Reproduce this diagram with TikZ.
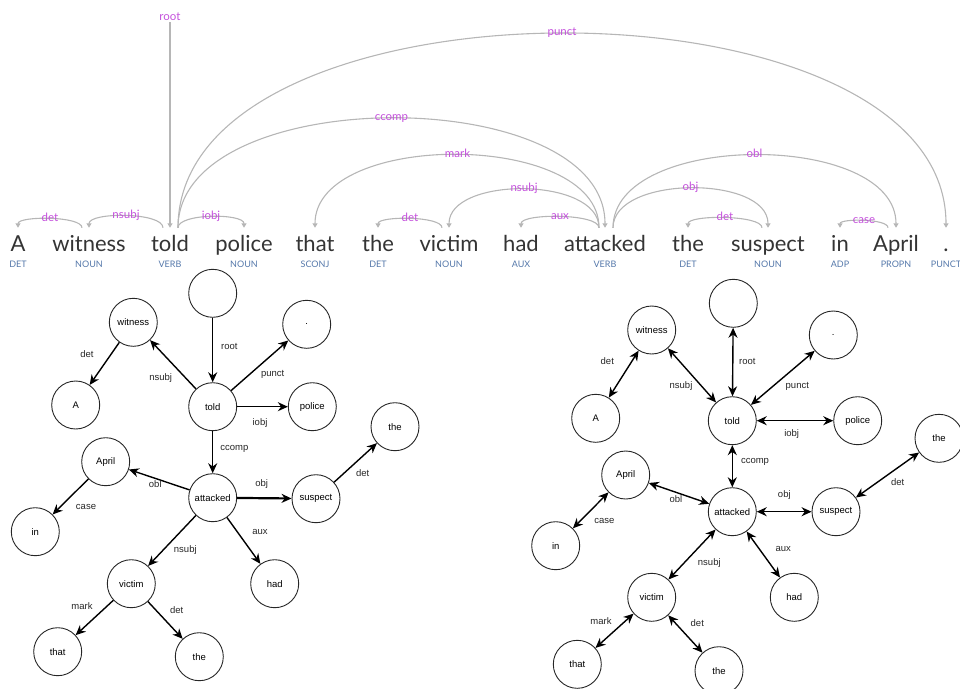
\documentclass[tikz,border=0pt]{standalone}
\usepackage{fontspec}
\setmainfont{Liberation Sans}
\newfontfamily\wordfont{Lato}
\usetikzlibrary{arrows.meta}
\definecolor{arcgray}{RGB}{182,182,182}
\definecolor{deplabel}{RGB}{196,80,220}
\definecolor{posblue}{RGB}{85,120,170}
\definecolor{wordink}{RGB}{52,52,52}
\begin{document}
\begin{tikzpicture}[x=1pt,y=1pt,
  wordtok/.style={font=\wordfont\fontsize{22}{22}\selectfont, text=wordink, inner sep=0pt, text height=23pt, text depth=0pt, anchor=base},
  postag/.style={font=\wordfont\fontsize{9}{9}\selectfont, text=posblue, inner sep=0pt, anchor=base},
  deprel/.style={font=\wordfont\fontsize{11.5}{11.5}\selectfont, text=deplabel, inner sep=0pt, anchor=base},
  deparc/.style={draw=arcgray, line width=1.1pt, -{Triangle[width=5pt,length=4.5pt]}},
  tokcircle/.style={circle, draw=black!85, line width=0.9pt, minimum size=48pt, inner sep=0pt, font=\fontsize{9.5}{9.5}\selectfont},
  relname/.style={font=\fontsize{9.5}{9.5}\selectfont, inner sep=0pt, text=black!85},
  depedge/.style={line width=1.4pt, -{Stealth[length=10pt,width=9pt]}},
  bidep/.style={line width=1.4pt, {Stealth[length=10pt,width=9pt]}-{Stealth[length=10pt,width=9pt]}},
]
\useasboundingbox (0,0) rectangle (960,-688);

% ---------------- sentence with dependency arcs ----------------
\foreach \x/\w/\p [count=\i] in {18/A/DET, 89/witness/NOUN, 170/told/VERB, 244/police/NOUN,
    315/that/SCONJ, 378/the/DET, 449/victim/NOUN, 521/had/AUX, 605/attacked/VERB,
    688/the/DET, 768/suspect/NOUN, 840/in/ADP, 896/April/PROPN, 946/./PUNCT}{
  \node[wordtok] (w\i) at (\x,-251) {\w};
  \node[postag] (p\i) at (\x,-267) {\p};
}

% root
\node[deprel] (lroot) at (170,-20) {root};
\draw[deparc] ([yshift=-2pt]lroot.south) -- (w3.north);

% arcs: head -> dependent
\draw[deparc] ([xshift=-7pt]w2.north) to[out=90,in=90,looseness=0.48] (w1.north);
\draw[deparc] ([xshift=-7pt]w3.north) to[out=90,in=90,looseness=0.55] (w2.north);
\draw[deparc] ([xshift=8pt]w3.north) to[out=90,in=90,looseness=0.57] (w4.north);
\draw[deparc] ([xshift=8pt]w3.north) to[out=90,in=90,looseness=0.877] (w9.north);
\draw[deparc] ([xshift=8pt]w3.north) to[out=90,in=90,looseness=0.865] (w14.north);
\draw[deparc] ([xshift=-6pt]w9.north) to[out=90,in=90,looseness=0.879] (w5.north);
\draw[deparc] ([xshift=-6pt]w9.north) to[out=90,in=90,looseness=0.88] (w7.north);
\draw[deparc] ([xshift=-7pt]w7.north) to[out=90,in=90,looseness=0.48] (w6.north);
\draw[deparc] ([xshift=-6pt]w9.north) to[out=90,in=90,looseness=0.48] (w8.north);
\draw[deparc] ([xshift=8pt]w9.north) to[out=90,in=90,looseness=0.879] (w13.north);
\draw[deparc] ([xshift=8pt]w9.north) to[out=90,in=90,looseness=0.873] (w11.north);
\draw[deparc] ([xshift=-6pt]w11.north) to[out=90,in=90,looseness=0.454] (w10.north);
\draw[deparc] ([xshift=-8pt]w13.north) to[out=90,in=90,looseness=0.5] (w12.north);

\node[deprel] (l1) at (50,-221) {det};
\node[deprel] (l2) at (126,-218) {nsubj};
\node[deprel] (l3) at (211,-219) {iobj};
\node[deprel] (l4) at (391.5,-120) {ccomp};
\node[deprel] (l5) at (562,-35) {punct};
\node[deprel] (l6) at (457.5,-157) {mark};
\node[deprel] (l7) at (524,-191) {nsubj};
\node[deprel] (l8) at (410,-221) {det};
\node[deprel] (l9) at (560,-219) {aux};
\node[deprel] (l10) at (754.5,-157) {obl};
\node[deprel] (l11) at (690.5,-190) {obj};
\node[deprel] (l12) at (725,-220) {det};
\node[deprel] (l13) at (864,-223) {case};

% ---------------- directed tree ----------------
\node[tokcircle] (LR) at (212.7,-293.3) {};
\node[tokcircle] (Lwitness) at (133.3,-322.3) {witness};
\node[tokcircle] (Lpunct) at (306.7,-324.3) {.};
\node[tokcircle] (LA) at (75.7,-405) {A};
\node[tokcircle] (Ltold) at (212.7,-406.7) {told};
\node[tokcircle] (Lpolice) at (312.3,-406.7) {police};
\node[tokcircle] (Lthea) at (395,-426.7) {the};
\node[tokcircle] (LApril) at (105.7,-461.7) {April};
\node[tokcircle] (Lattacked) at (212.7,-497.7) {attacked};
\node[tokcircle] (Lsuspect) at (316,-498.7) {suspect};
\node[tokcircle] (Lin) at (35.3,-531.7) {in};
\node[tokcircle] (Lvictim) at (131.3,-583.7) {victim};
\node[tokcircle] (Lhad) at (274.7,-583.7) {had};
\node[tokcircle] (Lthat) at (57.7,-651.7) {that};
\node[tokcircle] (Ltheb) at (199.3,-656.7) {the};

\draw[depedge] (LR) -- (Ltold);
\draw[depedge] (Ltold) -- (Lwitness);
\draw[depedge] (Lwitness) -- (LA);
\draw[depedge] (Ltold) -- (Lpunct);
\draw[depedge] (Ltold) -- (Lpolice);
\draw[depedge] (Ltold) -- (Lattacked);
\draw[depedge] (Lattacked) -- (LApril);
\draw[depedge] (LApril) -- (Lin);
\draw[depedge, line width=2.2pt] (Lattacked) -- (Lsuspect);
\draw[depedge] (Lsuspect) -- (Lthea);
\draw[depedge] (Lattacked) -- (Lhad);
\draw[depedge] (Lattacked) -- (Lvictim);
\draw[depedge] (Lvictim) -- (Lthat);
\draw[depedge] (Lvictim) -- (Ltheb);

\node[relname] (Ll1) at (87,-354.3) {det};
\node[relname] (Ll2) at (160.7,-378.3) {nsubj};
\node[relname] (Ll3) at (229.3,-346) {root};
\node[relname] (Ll4) at (272.7,-374) {punct};
\node[relname] (Ll5) at (260,-423.3) {iobj};
\node[relname] (Ll6) at (234.3,-449.3) {ccomp};
\node[relname] (Ll7) at (362.7,-472.7) {det};
\node[relname] (Ll8) at (155.3,-484.3) {obl};
\node[relname] (Ll9) at (261.7,-484.3) {obj};
\node[relname] (Ll10) at (86,-506.7) {case};
\node[relname] (Ll11) at (260,-532.3) {aux};
\node[relname] (Ll12) at (185.3,-550) {nsubj};
\node[relname] (Ll13) at (82,-605.7) {mark};
\node[relname] (Ll14) at (176.7,-610) {det};

% ---------------- undirected tree ----------------
\node[tokcircle] (RR) at (733.3,-303.3) {};
\node[tokcircle] (Rwitness) at (651.7,-330) {witness};
\node[tokcircle] (Rpunct) at (833.3,-335) {.};
\node[tokcircle] (RA) at (595.7,-418.3) {A};
\node[tokcircle] (Rtold) at (732.3,-420.7) {told};
\node[tokcircle] (Rpolice) at (857.7,-420.7) {police};
\node[tokcircle] (Rthea) at (939,-438.3) {the};
\node[tokcircle] (RApril) at (625.7,-475) {April};
\node[tokcircle] (Rattacked) at (732.3,-511.7) {attacked};
\node[tokcircle] (Rsuspect) at (836,-511.7) {suspect};
\node[tokcircle] (Rin) at (555.7,-545.7) {in};
\node[tokcircle] (Rvictim) at (651.7,-597.3) {victim};
\node[tokcircle] (Rhad) at (794.3,-597.3) {had};
\node[tokcircle] (Rthat) at (577.3,-664.3) {that};
\node[tokcircle] (Rtheb) at (719,-670.7) {the};

\draw[bidep] (RR) -- (Rtold);
\draw[bidep] (Rtold) -- (Rwitness);
\draw[bidep] (Rwitness) -- (RA);
\draw[bidep] (Rtold) -- (Rpunct);
\draw[bidep] (Rtold) -- (Rpolice);
\draw[bidep] (Rtold) -- (Rattacked);
\draw[bidep] (Rattacked) -- (RApril);
\draw[bidep] (RApril) -- (Rin);
\draw[bidep] (Rattacked) -- (Rsuspect);
\draw[bidep] (Rsuspect) -- (Rthea);
\draw[bidep] (Rattacked) -- (Rhad);
\draw[bidep] (Rattacked) -- (Rvictim);
\draw[bidep] (Rvictim) -- (Rthat);
\draw[bidep] (Rvictim) -- (Rtheb);

\node[relname] (Rl1) at (607.3,-361) {det};
\node[relname] (Rl2) at (681,-386) {nsubj};
\node[relname] (Rl3) at (747.3,-361) {root};
\node[relname] (Rl4) at (797.3,-386.7) {punct};
\node[relname] (Rl5) at (791.7,-434.3) {iobj};
\node[relname] (Rl6) at (755,-461.7) {ccomp};
\node[relname] (Rl7) at (897.7,-481.7) {det};
\node[relname] (Rl8) at (676,-499) {obl};
\node[relname] (Rl9) at (784.3,-495) {obj};
\node[relname] (Rl10) at (604.3,-521) {case};
\node[relname] (Rl11) at (783.3,-549) {aux};
\node[relname] (Rl12) at (709.3,-563.3) {nsubj};
\node[relname] (Rl13) at (601,-620.7) {mark};
\node[relname] (Rl14) at (697.3,-622.7) {det};
\end{tikzpicture}
\end{document}
